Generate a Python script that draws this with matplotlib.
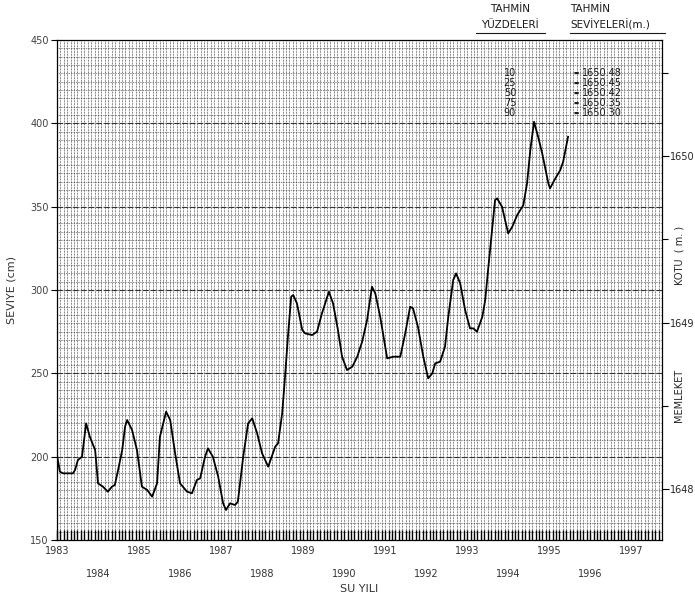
import numpy as np
import matplotlib
matplotlib.use('Agg')
import matplotlib.pyplot as plt

# water level (cm), time as decimal year
years = [1983.00, 1983.07, 1983.15, 1983.39, 1983.44, 1983.51, 1983.61, 1983.71, 1983.80, 1983.93,
         1984.00, 1984.12, 1984.24, 1984.34, 1984.41, 1984.49, 1984.59, 1984.66, 1984.71, 1984.83,
         1984.95, 1985.07, 1985.20, 1985.32, 1985.44, 1985.51, 1985.66, 1985.76, 1985.88, 1986.00,
         1986.17, 1986.29, 1986.41, 1986.49, 1986.61, 1986.68, 1986.80, 1986.93, 1987.05, 1987.12,
         1987.22, 1987.34, 1987.41, 1987.54, 1987.66, 1987.76, 1987.88, 1988.00, 1988.15, 1988.32,
         1988.39, 1988.49, 1988.56, 1988.63, 1988.71, 1988.76, 1988.85, 1988.98, 1989.05, 1989.22,
         1989.34, 1989.46, 1989.59, 1989.63, 1989.73, 1989.85, 1989.95, 1990.07, 1990.20, 1990.32,
         1990.44, 1990.56, 1990.68, 1990.76, 1990.88, 1991.05, 1991.20, 1991.37, 1991.49, 1991.61,
         1991.68, 1991.80, 1991.93, 1992.05, 1992.15, 1992.22, 1992.34, 1992.46, 1992.54, 1992.66,
         1992.73, 1992.83, 1992.95, 1993.07, 1993.15, 1993.24, 1993.37, 1993.44, 1993.51, 1993.68,
         1993.73, 1993.85, 1994.00, 1994.10, 1994.22, 1994.37, 1994.46, 1994.54, 1994.63, 1994.73,
         1994.83, 1994.98, 1995.02, 1995.15, 1995.27, 1995.34, 1995.46]
seviye = [201, 191, 190, 190, 192, 198, 200, 220, 212, 204,
          184, 182, 179, 182, 183, 192, 204, 218, 222, 216,
          204, 182, 180, 176, 184, 212, 227, 222, 202, 184,
          179, 178, 186, 187, 200, 205, 200, 188, 172, 168,
          172, 171, 173, 200, 220, 223, 214, 202, 194, 206,
          208, 226, 248, 272, 296, 297, 292, 276, 274, 273,
          275, 286, 296, 299, 292, 276, 260, 252, 254, 260,
          269, 282, 302, 298, 284, 259, 260, 260, 274, 290,
          289, 278, 260, 247, 250, 256, 257, 266, 284, 306,
          310, 304, 288, 277, 277, 275, 284, 294, 312, 354,
          355, 350, 334, 338, 345, 351, 364, 384, 401, 392,
          382, 364, 361, 367, 372, 377, 392]

yuzdeler = ['10', '25', '50', '75', '90']
tahmin_seviye = ['1650.48', '1650.45', '1650.42', '1650.35', '1650.30']

year_ticks = list(range(1983, 1998))
y_ticks = [150, 200, 250, 300, 350, 400, 450]
kot_ticks = [1648, 1649, 1650]
kot_zero = 180.5   # cm reading that matches 1648 m

fig = plt.figure(figsize=(6.95, 6.03), dpi=100)
ax = fig.add_axes([0.082, 0.1045, 0.8705, 0.829])

# dense graph-paper grid
for xm in np.arange(1983, 1997.75, 1 / 12):
    ax.axvline(xm, color='0.2', lw=0.55, ls=(0, (1, 1)), zorder=0)
for yc in range(150, 451, 5):
    ax.axhline(yc, color='0.25', lw=0.55, ls=(0, (1, 1.2)), zorder=0)
for yc in y_ticks[1:-1]:
    ax.axhline(yc, color='0.2', lw=0.8, ls=(0, (5, 2)), zorder=1)

ax.plot(years, seviye, color='black', lw=1.3, zorder=3)

ax.set_xlim(1983, 1997.75)
ax.set_ylim(150, 450)

ax.set_yticks(y_ticks)
ax.set_yticklabels([str(v) for v in y_ticks], fontsize=7, color='0.25')
ax.tick_params(axis='y', direction='out', length=4, width=0.8, pad=2)

ax.set_xticks(year_ticks)
ax.set_xticklabels([str(y) if y % 2 else '\n\n' + str(y) for y in year_ticks],
                   fontsize=7, color='0.2')
ax.set_xticks(np.arange(1983, 1997.75, 1 / 12), minor=True)
ax.tick_params(axis='x', which='minor', direction='in', length=7, width=1.0)
ax.tick_params(axis='x', which='major', direction='in', length=7, width=1.0, pad=4)

for s in ax.spines.values():
    s.set_linewidth(0.9)

ax.set_ylabel('SEVIYE (cm)', fontsize=8, color='0.2', labelpad=10)
ax.set_xlabel('SU YILI', fontsize=8, color='0.2', labelpad=4)

sec = ax.secondary_yaxis('right', functions=(lambda c: 1648 + (c - kot_zero) / 100,
                                              lambda m: (m - 1648) * 100 + kot_zero))
sec.set_yticks(kot_ticks)
sec.set_yticklabels([str(v) for v in kot_ticks], fontsize=7, color='0.15')
sec.set_yticks([1648.5, 1649.5, 1650.5], minor=True)
sec.tick_params(which='major', direction='out', length=5, width=0.8, pad=0.5)
sec.tick_params(which='minor', direction='out', length=4, width=0.8)
sec.spines['right'].set_visible(False)

# right axis title, split around the 1649 label as on the original
fig.text(679 / 695, 1 - 255 / 603, 'KOTU  ( m. )', fontsize=7, rotation=90,
         ha='center', va='center', color='0.15')
fig.text(679 / 695, 1 - 395 / 603, 'MEMLEKET', fontsize=7, rotation=90,
         ha='center', va='center', color='0.15')

# forecast legend block in the upper right
for x0, ha, lines in [(510, 'center', ['TAHMİN', 'YÜZDELERİ']),
                      (570, 'left', ['TAHMİN', 'SEVİYELERİ(m.)'])]:
    fig.text(x0 / 695, 1 - 9 / 603, lines[0], fontsize=7.5, ha=ha, va='center', color='0.1')
    fig.text(x0 / 695, 1 - 25 / 603, lines[1], fontsize=7.5, ha=ha, va='center', color='0.1')
fig.add_artist(plt.Line2D([476 / 695, 545 / 695], [1 - 33 / 603] * 2, color='0.1', lw=0.8))
fig.add_artist(plt.Line2D([570 / 695, 665 / 695], [1 - 33 / 603] * 2, color='0.1', lw=0.8))

for i, (p, v) in enumerate(zip(yuzdeler, tahmin_seviye)):
    yy = 1 - (73 + i * 10) / 603
    fig.text(510 / 695, yy, p, fontsize=7, ha='center', va='center', color='0.1')
    fig.text(576 / 695, yy, '▬', fontsize=4, ha='center', va='center', color='0.1')
    fig.text(582 / 695, yy, v, fontsize=7, ha='left', va='center', color='0.1')

fig.savefig('out.png', dpi=100)
